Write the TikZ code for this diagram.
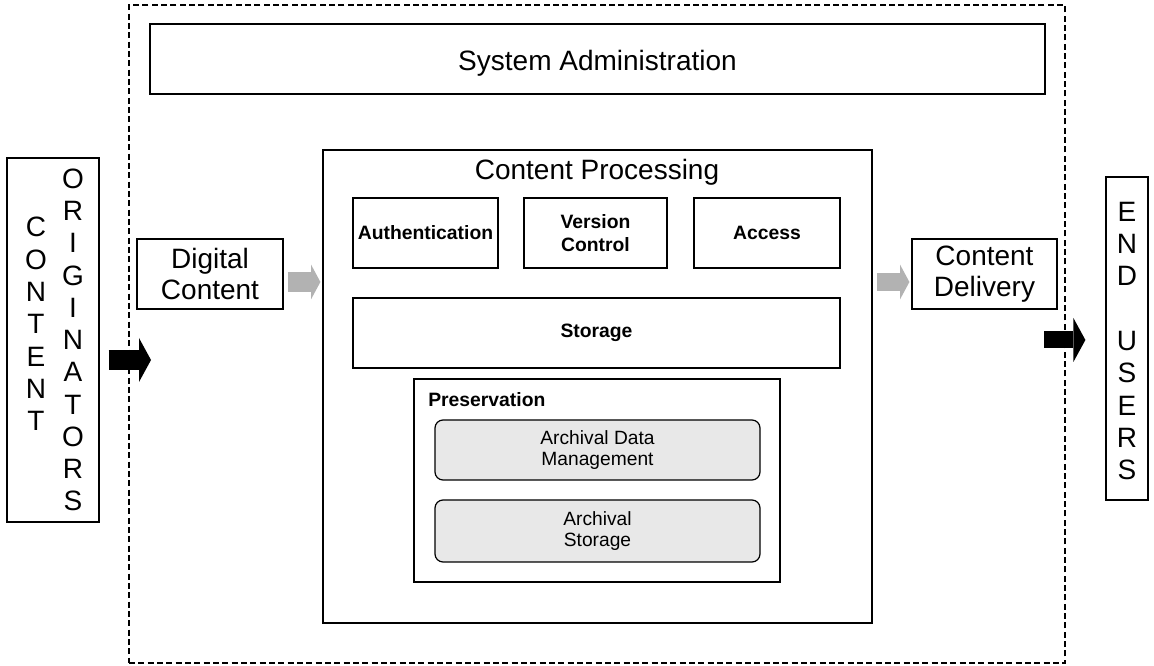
\documentclass[tikz,border=0pt]{standalone}
\usepackage{fontspec}
\setmainfont{Liberation Sans}
\usetikzlibrary{fit,arrows.meta}

\begin{document}
\begin{tikzpicture}[x=0.75pt,y=-0.75pt,
		box/.style={draw,line width=0.9pt,inner sep=0pt},
		subbox/.style={box,fill=black!9,rounded corners=6pt},
		bigtxt/.style={font=\fontsize{21}{23.6}\selectfont,align=center},
		boldtxt/.style={font=\fontsize{14.5}{17.8}\selectfont\bfseries,align=center},
		smalltxt/.style={font=\fontsize{14.4}{16.3}\selectfont,align=center},
		lettertxt/.style={font=\fontsize{21}{24.2}\selectfont,align=center,inner sep=0pt},
		grayflow/.style={line width=15pt,draw=black!30,-{Triangle[length=7pt,width=26pt,line width=0pt,fill=black!30]}},
		blackflow/.style={line width=15.5pt,-{Triangle[length=9pt,width=33pt,line width=0pt]}}]
		\useasboundingbox (0,0) rectangle (1154,666);
		% outer system border
		\node[draw,dash pattern=on 4.5pt off 2.5pt,line width=0.8pt,inner sep=0pt,fit={(129,5) (1065,663)}] (repo) {};
		\node[box,fit={(150,24) (1045,94)},label={[bigtxt,yshift=-3pt]center:System Administration}] (sysadm) {};
		% content processing block
		\node[box,fit={(323,150) (872,623)}] (proc) {};
		\node[bigtxt] (proctxt) at (597,172) {Content Processing};
		\node[box,fit={(353,198) (498,268)},label={[boldtxt]center:Authentication}] (auth) {};
		\node[box,fit={(524,198) (667,268)},label={[boldtxt]center:Version\\Control}] (version) {};
		\node[box,fit={(694,198) (840,268)},label={[boldtxt]center:Access}] (access) {};
		\node[box,fit={(353,298) (840,368)},label={[boldtxt]center:Storage}] (storage) {};
		\node[box,fit={(414,379) (780,582)}] (preserv) {};
		\node[boldtxt,anchor=west,inner sep=0pt] (preservtxt) at (428,400) {Preservation};
		\node[subbox,fit={(435,420) (760,480)},label={[smalltxt]center:Archival Data\\Management}] (adm) {};
		\node[subbox,fit={(435,500) (760,562)},label={[smalltxt]center:Archival\\Storage}] (arcstore) {};
		% producers and consumers
		\node[box,fit={(7,158) (99,522)}] (origin) {};
		\node[lettertxt] (originw1) at (36,324) {C\\O\\N\\T\\E\\N\\T};
		\node[lettertxt] (originw2) at (73,340) {O\\R\\I\\G\\I\\N\\A\\T\\O\\R\\S};
		\node[box,fit={(137,239) (283,309)},label={[bigtxt]center:Digital\\Content}] (digital) {};
		\node[box,fit={(912,239) (1057,309)},label={[bigtxt]center:Content\\Delivery}] (delivery) {};
		\node[box,fit={(1106,177) (1148,500)}] (users) {};
		\node[lettertxt] (usersw) at (1127,341) {E\\N\\D\\\mbox{}\\U\\S\\E\\R\\S};
		% flows
		\coordinate (lvl) at (0,282);
		\coordinate (inlet) at (151,360);
		\coordinate (outlet) at (1044,340);
		\draw[blackflow,shorten <=6.75pt] (origin.east |- inlet) -- (inlet);
		\draw[grayflow,shorten <=3pt,shorten >=1.5pt] (digital.east |- lvl) -- (proc.west |- lvl);
		\draw[grayflow,line width=13.5pt,shorten <=3pt,shorten >=1.5pt] (proc.east |- lvl) -- (delivery.west |- lvl);
		\draw[blackflow,line width=12.75pt,shorten >=15pt] (outlet) -- (users.west |- outlet);
	\end{tikzpicture}
\end{document}
